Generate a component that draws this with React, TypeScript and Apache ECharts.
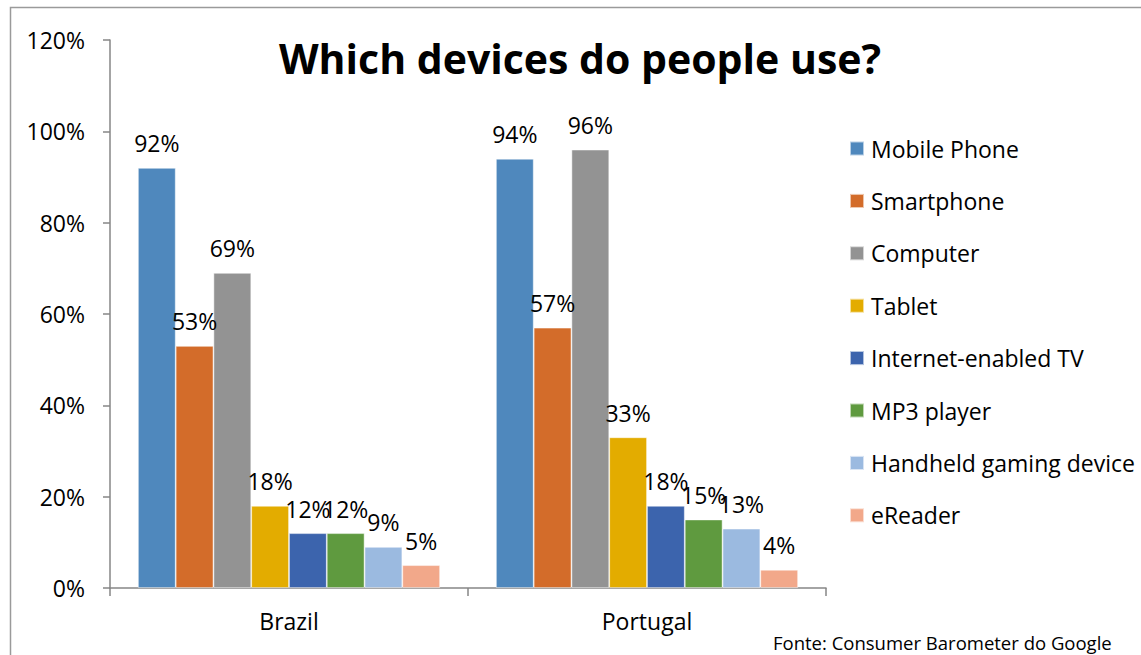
import React, { useEffect, useRef } from "react";
import * as echarts from "echarts";

const categories = ["Brazil", "Portugal"];
const seriesNames = [
  "Mobile Phone",
  "Smartphone",
  "Computer",
  "Tablet",
  "Internet-enabled TV",
  "MP3 player",
  "Handheld gaming device",
  "eReader",
];
const mobilePhone = [92, 94];
const smartphone = [53, 57];
const computer = [69, 96];
const tablet = [18, 33];
const internetTV = [12, 18];
const mp3Player = [12, 15];
const handheldGaming = [9, 13];
const eReader = [5, 4];
const seriesValues = [mobilePhone, smartphone, computer, tablet, internetTV, mp3Player, handheldGaming, eReader];
const colors = ["#4F88BD", "#D36C2A", "#939393", "#E3AC00", "#3C64AD", "#5F9A3F", "#9BBAE0", "#F2A88A"];

const FONT = "'Open Sans', sans-serif";
const FS = 23;

export default function App() {
  const ref = useRef<HTMLDivElement>(null);
  useEffect(() => {
    if (!ref.current) return;
    const chart = echarts.init(ref.current, undefined, { renderer: "svg" });
    chart.setOption({
      animation: false,
      backgroundColor: "#ffffff",
      textStyle: { fontFamily: FONT },
      title: {
        text: "Which devices do people use?",
        left: 575,
        textAlign: "center",
        top: 32,
        textStyle: { fontFamily: FONT, fontSize: 41, fontWeight: "bold", color: "#000" },
      },
      graphic: [
        {
          type: "rect",
          shape: { x: 10.5, y: 7.5, width: 1200, height: 700 },
          style: { fill: "none", stroke: "#9a9a9a", lineWidth: 1.5 },
          silent: true,
        },
        {
          type: "text",
          left: 773,
          top: 633,
          style: { text: "Fonte: Consumer Barometer do Google", fontFamily: FONT, fontSize: 18.5, fill: "#000" },
        },
      ],
      legend: {
        orient: "vertical",
        left: 849,
        top: 137,
        padding: 0,
        itemWidth: 14,
        itemHeight: 14,
        itemGap: 29.4,
        icon: "rect",
        data: seriesNames,
        textStyle: { fontFamily: FONT, fontSize: FS, lineHeight: 21, color: "#000", padding: [0, 0, 0, 2] },
      },
      grid: { left: 110, right: 315, top: 40, bottom: 67 },
      xAxis: {
        type: "category",
        data: categories,
        axisLine: { lineStyle: { color: "#868686", width: 1.5 } },
        axisTick: { show: true, length: 8, lineStyle: { color: "#868686", width: 1.5 } },
        axisLabel: { fontFamily: FONT, fontSize: FS, color: "#000", margin: 21 },
      },
      yAxis: {
        type: "value",
        min: 0,
        max: 120,
        interval: 20,
        splitLine: { show: false },
        axisLine: { show: true, lineStyle: { color: "#868686", width: 1.5 } },
        axisTick: { show: true, length: 7, lineStyle: { color: "#868686", width: 1.5 } },
        axisLabel: { fontFamily: FONT, fontSize: FS, color: "#000", margin: 25, formatter: "{value}%" },
      },
      series: seriesNames.map((name, i) => ({
        name,
        type: "bar",
        data: seriesValues[i],
        barGap: "0%",
        barCategoryGap: "15.6%",
        itemStyle: { color: colors[i], borderColor: "rgba(255,255,255,0.6)", borderWidth: 0.8 },
        label: {
          show: true,
          position: "top",
          distance: 13,
          formatter: "{c}%",
          fontFamily: FONT,
          fontSize: FS,
          color: "#000",
        },
      })),
    });
    return () => chart.dispose();
  }, []);
  return <div ref={ref} style={{ position: "absolute", left: 0, top: 0, width: 1141, height: 655 }} />;
}
